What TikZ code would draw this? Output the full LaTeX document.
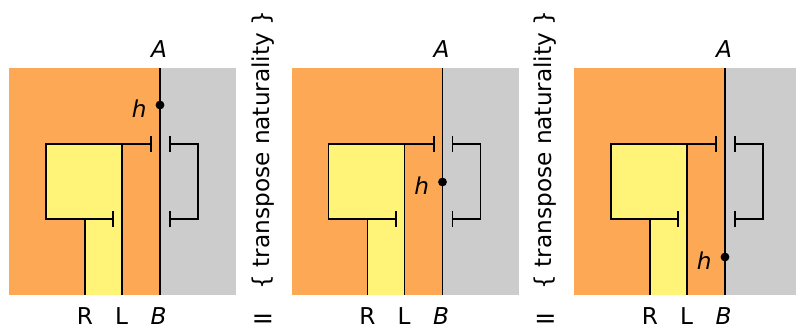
\documentclass[tikz,border=0pt]{standalone}
\usepackage{fontspec}
\setmainfont{DejaVu Sans}
\usetikzlibrary{arrows.meta}
\definecolor{regorange}{RGB}{252,168,84}
\definecolor{reggrey}{RGB}{204,204,204}
\definecolor{regyellow}{RGB}{255,243,120}
\begin{document}
\begin{tikzpicture}[x=0.5pt,y=-0.5pt,
  font=\fontsize{11.6}{14}\selectfont,
  wire/.style={line width=0.6pt},
  bracket/.style={line width=0.8pt,{Bar[width=8pt]}-{Bar[width=8pt]}},
  dot/.style={circle,fill=black,inner sep=0pt,minimum size=4.4pt},
  lbl/.style={inner sep=0pt},
  eqn/.style={inner sep=0pt,font=\fontsize{13.5}{16}\selectfont}]
\useasboundingbox (0,0) rectangle (796,328);
% three copies of the string diagram, h sliding down the A/B wire
\foreach \dx/\hy/\k in {0/105/a, 282.5/182/b, 565/257/c} {
  \begin{scope}[shift={(\dx,0)}]
    \fill[regorange] (9,68) rectangle (160,295);
    \fill[reggrey] (160,68) rectangle (236,295);
    \fill[regyellow] (46,144) rectangle (122,219);
    \fill[regyellow] (85,219) rectangle (122,295);
    \coordinate (top-\k) at (160,68);
    \coordinate (bot-\k) at (160,295);
    \coordinate (Ltop-\k) at (122,144);
    \coordinate (Lbot-\k) at (122,295);
    \coordinate (Rtop-\k) at (85,219);
    \coordinate (Rbot-\k) at (85,295);
    \draw[wire] (top-\k) -- (bot-\k);
    \draw[wire] (Ltop-\k) -- (Lbot-\k);
    \draw[wire] (Rtop-\k) -- (Rbot-\k);
    % unit / counit brackets
    \draw[bracket] (152,144) -- (46,144) -- (46,219) -- (114,219);
    \draw[bracket] (169,144) -- (198,144) -- (198,219) -- (169,219);
    % labels
    \node[lbl,anchor=base] (A-\k) at (159,57) {\itshape A};
    \node[lbl,anchor=base] (B-\k) at (158.5,324) {\itshape B};
    \node[lbl,anchor=base] (L-\k) at (121.5,324) {L};
    \node[lbl,anchor=base] (R-\k) at (85,324) {R};
    \node[dot] (h-\k) at (160,\hy) {};
    \node[lbl,anchor=base east] (hl-\k) at (147,\hy+12) {\itshape h};
  \end{scope}
}
% rewrite steps between the diagrams
\foreach \x/\k in {263/a, 545.5/b} {
  \node[lbl,rotate=90] (step-\k) at (\x,150) {\{ transpose naturality \}};
  \node[eqn] (eq-\k) at (\x,321) {=};
}
\end{tikzpicture}
\end{document}
